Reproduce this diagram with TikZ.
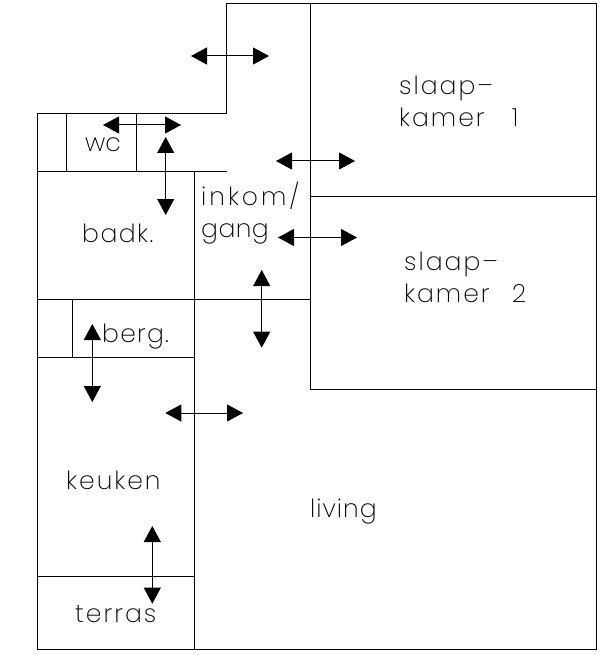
\documentclass[tikz,border=0pt]{standalone}
\usepackage{fontspec}
\setmainfont{Poppins}[UprightFont={* ExtraLight},LetterSpace=8]
\usetikzlibrary{arrows.meta}

\begin{document}
\begin{tikzpicture}[x=1pt, y=-1pt, wall/.style = {draw, line width=1.2pt},
		door/.style = {{Triangle[length=16pt,width=17pt]}-{Triangle[length=16pt,width=17pt]}, line width=1pt},
		room/.style = {anchor=base west, inner sep=0pt, font=\fontsize{25}{32}\selectfont\addfontfeature{LetterSpace=#1}},
		room/.default = 8]
		\useasboundingbox (0,0) rectangle (615,655);
		
		% walls
		\draw[wall] (226.5,113.5) -- (226.5,3.5) -- (596.5,3.5) -- (596.5,649.5) -- (37.5,649.5) -- (37.5,113.5) -- cycle;
		\draw[wall] (310.5,3.5) -- (310.5,389.5) -- (596.5,389.5);
		\draw[wall] (310.5,196.5) -- (596.5,196.5);
		\draw[wall] (66.5,113.5) -- (66.5,171.5);
		\draw[wall] (136.5,113.5) -- (136.5,171.5);
		\draw[wall] (37.5,171.5) -- (226.5,171.5);
		\draw[wall] (194.5,171.5) -- (194.5,649.5);
		\draw[wall] (37.5,299.5) -- (310.5,299.5);
		\draw[wall] (72.5,299.5) -- (72.5,357.5);
		\draw[wall] (37.5,357.5) -- (194.5,357.5);
		\draw[wall] (37.5,576.5) -- (194.5,576.5);
		
		% doors
		\draw[door] (191,56) -- (269,56);
		\draw[door] (103,125) -- (181,125);
		\draw[door] (165.7,137) -- (165.7,215);
		\draw[door] (276,161) -- (355,161);
		\draw[door] (278,237.5) -- (357,237.5);
		\draw[door] (261.7,270) -- (261.7,347.7);
		\draw[door] (92.3,324) -- (92.3,402);
		\draw[door] (165.3,413) -- (243,413);
		\draw[door] (152.3,526) -- (152.3,603.7);
		
		% rooms
		\node[room=0] (wc) at (85,151.7) {wc};
		\node[room=6] (badk) at (82,242) {badk.};
		\node[room=12] (inkom) at (201,205) {inkom/};
		\node[room=2] (gang) at (201,237) {gang};
		\node[room=5] (berg) at (102,342) {berg.};
		\node[room=8] (keuken) at (66,489) {keuken};
		\node[room] (terras) at (75,622) {terras};
		\node[room=4] (living) at (310,517) {living};
		\node[room] (slaap1) at (399,95) {slaap--};
		\node[room] (kamer1) at (399,127) {kamer\ \ \ 1};
		\node[room] (slaap2) at (404,270) {slaap--};
		\node[room] (kamer2) at (404,302) {kamer\ \ \,2};
	\end{tikzpicture}
\end{document}
